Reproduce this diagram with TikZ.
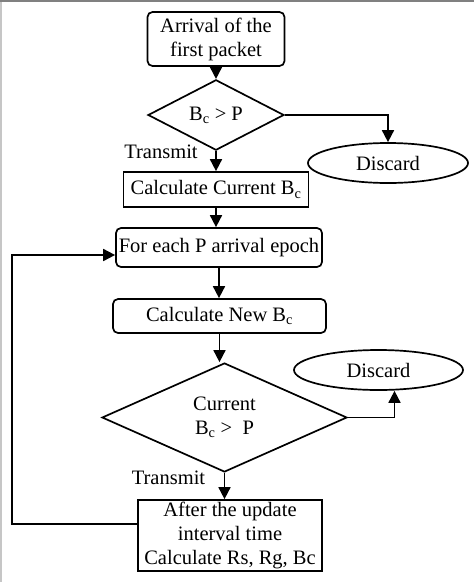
\documentclass[tikz,border=0pt]{standalone}
\usepackage{fontspec}
\setmainfont{Liberation Serif}
\usetikzlibrary{shapes.geometric,arrows.meta}
\begin{document}
\begin{tikzpicture}[x=1pt,y=-1pt,
  font=\fontsize{20.5}{24}\selectfont,
  line width=1.7pt,
  flow/.style={-{Triangle[length=12pt,width=12pt]}},
  roundbox/.style={draw, rounded corners=5pt, align=center, inner sep=0pt},
  sharpbox/.style={draw, align=center, inner sep=0pt},
  test/.style={draw, diamond, inner sep=0pt, align=center},
  stopnode/.style={draw, ellipse, inner sep=0pt}]
\useasboundingbox (0,0) rectangle (474,582);
\fill[gray!45] (0,0) rectangle (2,582);
\fill[gray] (0,0) rectangle (474,2);
\node[roundbox, minimum width=137, minimum height=54] (arrival) at (216,39){Arrival of the\\first packet};
\node[test, minimum width=136, minimum height=56] (check1) at (216,115){B\textsubscript{c} > P};
\node[stopnode, minimum width=160, minimum height=40] (discard1) at (388,163){Discard};
\node[sharpbox, minimum width=185, minimum height=35] (current) at (216,189.5){Calculate Current B\textsubscript{c}};
\node[roundbox, minimum width=206, minimum height=39] (epoch) at (219,247.5){For each P arrival epoch};
\node[roundbox, minimum width=213, minimum height=34] (newbc) at (219.5,316){Calculate New B\textsubscript{c}};
\node[test, minimum width=245, minimum height=109] (check2) at (224.5,417.5){Current\\B\textsubscript{c} >\ \ P};
\node[stopnode, minimum width=169, minimum height=40] (discard2) at (378.5,370){Discard};
\node[sharpbox, minimum width=184, minimum height=71] (update) at (230,535.5){After the update\\interval time\\Calculate Rs, Rg, Bc};
\node (tx1) at (161,152){Transmit};
\node (tx2) at (168.5,478){Transmit};
\coordinate (loopleft) at (12,524);
\draw[flow](arrival.south) -- (arrival.south |- check1.north);
\draw[flow](check1.south) -- (check1.south |- current.north);
\draw[flow](check1.east) -| (discard1.north);
\draw[flow](current.south) -- (current.south |- epoch.north);
\draw[flow](epoch.south) -- (epoch.south |- newbc.north);
\draw[flow](newbc.south) -- (newbc.south |- check2.north);
\draw[flow](check2.south) -- (check2.south |- update.north);
\draw[flow](check2.east) -| ([xshift=16pt]discard2.south);
\draw[flow](update.west |- loopleft) -- (loopleft) |- ([yshift=-7.5pt]epoch.west);
\end{tikzpicture}
\end{document}
